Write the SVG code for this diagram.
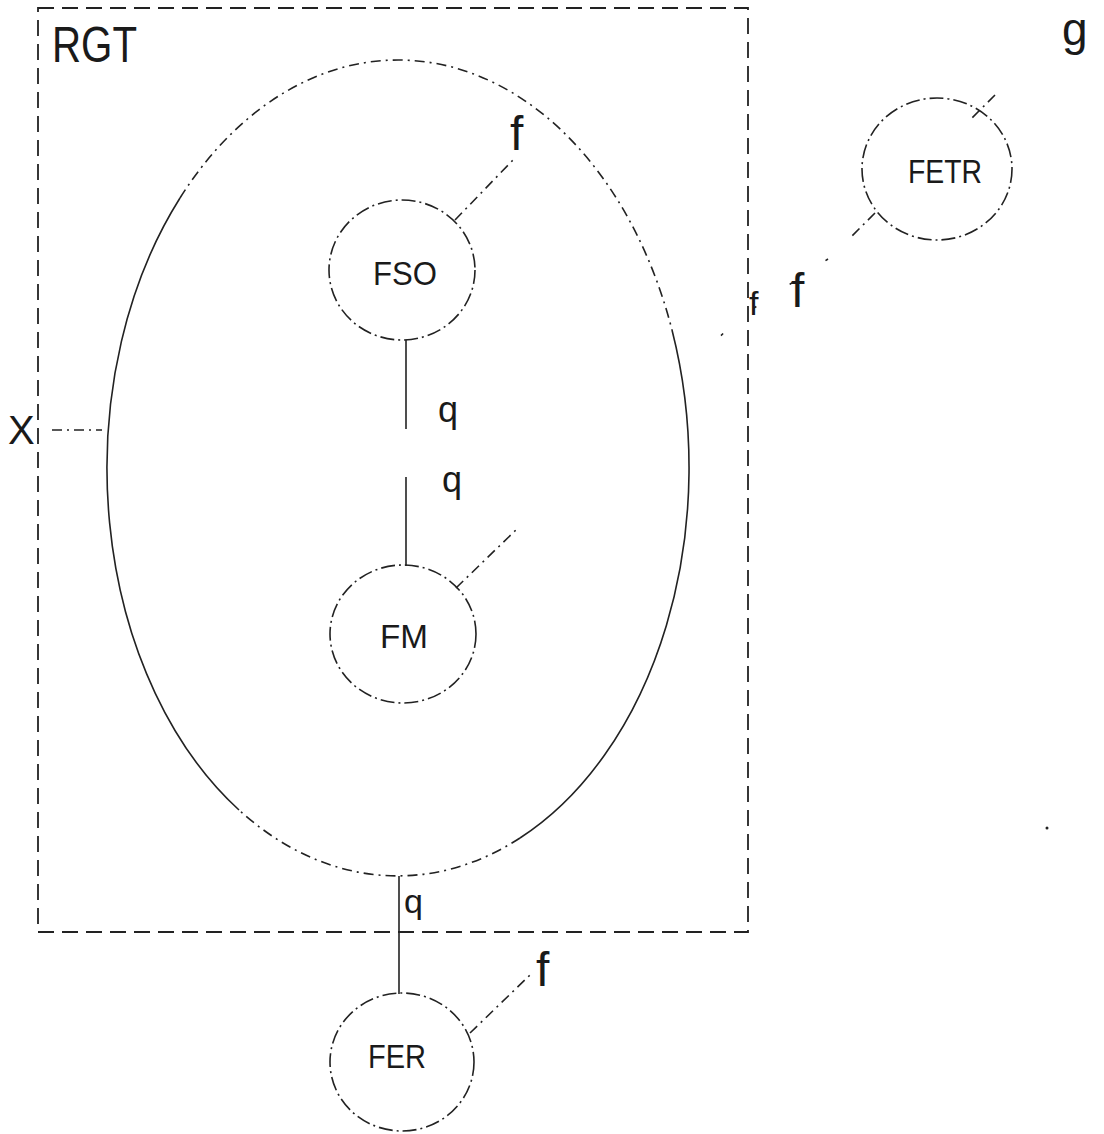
<svg xmlns="http://www.w3.org/2000/svg" width="1104" height="1134" viewBox="0 0 1104 1134">
<style>
.t{font-family:"Liberation Sans",Arial,sans-serif;fill:#1a1a1a}
.node{fill:none;stroke:#222;stroke-width:1.6;stroke-dasharray:14 4 2 4}
.dd{fill:none;stroke:#222;stroke-width:1.6;stroke-dasharray:10 5 2 5}
.sp{fill:none;stroke:#222;stroke-width:1.6;stroke-dasharray:3 40}
.solid{fill:none;stroke:#222;stroke-width:1.6}
</style>
<rect width="1104" height="1134" fill="#fff"/>
<g id="rgt">
<rect x="38" y="8" width="710" height="924" fill="none" stroke="#222" stroke-width="1.8" stroke-dasharray="16 8"/>
<text class="t" x="52" y="62" font-size="50" textLength="85" lengthAdjust="spacingAndGlyphs">RGT</text>
</g>
<g id="outer">
<path class="dd" d="M180 198 A291 408 0 0 1 672 330"/>
<path class="solid" d="M672 330 A291 408 0 0 1 520 838"/>
<path class="dd" d="M520 838 A291 408 0 0 1 239 810"/>
<path class="solid" d="M239 810 A291 408 0 0 1 180 198"/>
</g>
<g id="fso">
<ellipse class="node" cx="402" cy="270" rx="73" ry="70"/>
<text class="t" x="405" y="285" font-size="34" text-anchor="middle" textLength="64" lengthAdjust="spacingAndGlyphs">FSO</text>
</g>
<g id="fm">
<ellipse class="node" cx="403" cy="634" rx="73" ry="69"/>
<text class="t" x="404" y="648" font-size="34" text-anchor="middle" textLength="48" lengthAdjust="spacingAndGlyphs">FM</text>
</g>
<g id="fer">
<ellipse class="node" cx="402" cy="1062" rx="72" ry="69"/>
<text class="t" x="397" y="1068" font-size="34" text-anchor="middle" textLength="58" lengthAdjust="spacingAndGlyphs">FER</text>
</g>
<g id="fetr">
<ellipse class="node" cx="937" cy="169" rx="75" ry="71"/>
<text class="t" x="945" y="183" font-size="34" text-anchor="middle" textLength="74" lengthAdjust="spacingAndGlyphs">FETR</text>
</g>
<g id="connectors">
<line class="solid" x1="406" y1="340" x2="406" y2="429"/>
<line class="solid" x1="406" y1="477" x2="406" y2="566"/>
<line class="solid" x1="399" y1="876" x2="399" y2="994"/>
<line class="dd" x1="455" y1="220" x2="513" y2="160"/>
<line class="dd" x1="456" y1="588" x2="518" y2="528"/>
<line class="dd" x1="470" y1="1033" x2="530" y2="975"/>
<line class="dd" x1="52" y1="430" x2="102" y2="430"/>
<line class="dd" x1="995" y1="95" x2="972" y2="118"/>
<line class="dd" x1="875" y1="213" x2="850" y2="238"/>
<path class="sp" d="M828 259 L739 318 L693 363"/>
<circle cx="1047" cy="828" r="1.5" fill="#222"/>
</g>
<g id="labels">
<text class="t" x="438" y="422" font-size="36">q</text>
<text class="t" x="442" y="492" font-size="36">q</text>
<text class="t" x="404" y="913" font-size="34">q</text>
<text class="t" x="510" y="150" font-size="48">f</text>
<text class="t" x="536" y="986" font-size="48">f</text>
<text class="t" x="791" y="307" font-size="48">f</text>
<text class="t" x="749" y="315" font-size="34">f</text>
<text class="t" x="8" y="444" font-size="40">X</text>
<text class="t" x="1062" y="45" font-size="46">g</text>
</g>
</svg>
